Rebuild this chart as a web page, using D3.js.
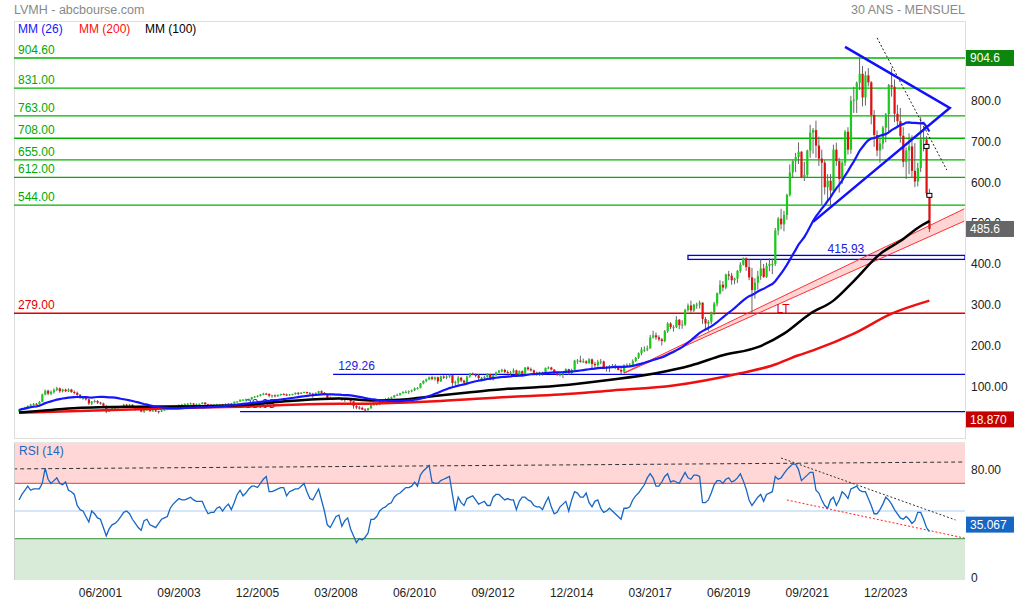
<!DOCTYPE html>
<html>
<head>
<meta charset="utf-8">
<script src="https://cdn.jsdelivr.net/npm/d3@7"></script>
<style>
body { margin: 0; background: #fff; }
svg { font-family: "Liberation Sans", Arial, sans-serif; }
</style>
</head>
<body>
<div id="vis"></div>
<script>
// monthly candles, first month = 1999-03
var startYear = 1999, startMon = 3;
var firstOpen = 39;
var closes = [
  42,46,48,52,55,57,56,62,80,89,
  82,86,91,95,88,92,88,92,86,84,79,72,
  72,68,58,62,64,60,58,52,38,42,48,47,
  49,51,55,53,55,50,43,46,38,42,44,39,
  41,39,38,41,43,44,46,51,52,54,55,57,
  57,58,55,56,57,60,56,55,54,55,56,56,
  55,57,58,57,62,63,67,67,68,68,73,75,
  77,80,82,81,77,78,76,79,81,80,78,80,
  81,84,83,84,86,83,82,78,84,88,84,81,
  72,71,70,72,71,66,69,70,63,52,48,47,
  43,42,46,54,58,55,63,68,69,71,73,78,
  79,83,86,86,88,90,95,96,107,113,117,122,
  118,122,112,124,121,124,127,108,110,121,114,109,
  124,131,128,127,120,121,123,130,117,127,134,138,
  140,135,134,134,139,126,137,131,146,142,139,133,
  128,133,132,145,146,141,132,128,129,133,142,132,
  140,163,163,160,161,157,166,155,152,160,161,145,
  147,149,150,146,140,136,152,152,153,162,170,181,
  190,190,193,220,225,220,215,211,235,254,245,245,
  263,250,251,287,298,286,300,300,305,265,254,258,
  281,303,328,349,342,374,371,360,364,383,398,414,
  392,367,336,354,370,389,368,395,400,400,482,511,
  497,520,569,624,652,662,675,612,618,678,722,728,
  690,658,648,588,604,580,680,652,608,648,724,680,
  800,802,844,866,808,862,845,765,716,678,695,734,
  767,838,834,768,750,714,650,678,688,628,602,635,
  705,705,573,485.6
];
var highs = [
  44,47,50,53,57,59,59,64,82,92,
  92,90,95,99,97,94,94,95,94,90,87,81,
  76,74,70,64,67,66,62,60,54,45,50,50,
  51,52,57,57,57,56,51,48,47,44,47,45,
  43,42,40,43,45,46,48,52,54,56,57,58,
  59,60,59,58,58,61,61,57,56,56,57,57,
  57,58,59,59,63,64,68,69,70,70,74,76,
  78,81,84,84,83,79,80,80,82,83,82,81,
  82,85,86,86,87,87,86,84,85,89,90,86,
  82,75,73,73,74,72,70,72,71,64,56,52,
  50,46,47,55,60,59,64,69,71,73,75,79,
  82,84,88,90,90,92,97,98,108,115,119,124,
  126,124,124,126,127,127,129,128,114,125,123,116,
  126,133,134,132,130,123,126,132,131,129,136,140,
  143,143,139,138,144,141,139,139,147,149,146,141,
  136,136,136,146,149,148,142,134,133,136,144,143,
  143,165,167,175,168,164,169,168,160,165,167,163,
  150,152,155,155,148,148,154,156,157,166,172,183,
  196,198,200,226,236,232,225,218,238,257,257,250,
  272,265,262,290,303,310,302,305,310,306,270,262,
  283,307,330,360,358,376,383,378,366,385,404,416,
  415.9,412,390,365,383,411,400,403,414,413,488,515,
  535,530,572,644,654,672,698,676,650,680,741,733,
  751,712,680,654,620,620,692,697,660,652,728,735,
  812,834,847,904.6,885,872,880,848,777,727,706,738,
  770,841,880,852,790,782,735,686,720,715,696,648,
  760,738,713,584
];
var lows = [
  38,41,44,46,50,53,54,55,61,78,
  78,78,82,88,84,85,86,86,84,80,76,69,
  67,65,54,54,60,57,55,50,34,37,41,45,
  45,47,50,51,51,48,40,41,36,35,40,38,
  38,37,33,37,40,42,43,45,49,50,52,54,
  55,55,53,53,54,56,55,53,52,52,53,54,
  53,54,55,55,56,60,62,64,65,64,67,72,
  73,75,78,79,73,72,73,74,77,78,76,77,
  78,79,78,81,83,82,80,72,77,82,82,78,
  68,68,66,68,69,65,62,66,58,45,44,43,
  42,39,38.08,45,52,53,54,61,65,66,69,72,
  76,77,82,83,81,85,88,92,95,105,110,115,
  115,114,106,111,118,117,121,100,98,105,110,103,
  108,121,127,122,115,112,116,121,115,114,125,132,
  134,132,131,128,132,124,125,130,129,138,136,130,
  126,125,126,130,142,139,130,125,124,120,131,128,
  130,138,155,158,157,154,155,143,142,148,154,144,
  136,135,145,142,139,130,133,149,148,151,160,167,
  176,184,186,192,217,214,210,200,208,231,240,234,
  243,240,241,248,283,280,282,290,291,253,238,235,
  252,275,296,325,333,338,360,349,350,353,378,396,
  383,360,279,315,337,361,366,366,382,375,395,470,
  485,480,508,565,610,625,645,610,603,612,660,670,
  660,640,545,570,553,543,578,640,575,596,640,668,
  670,770,770,826,786,788,835,742,687,664,648,681,
  698,720,810,748,738,697,637,608,620,612,588,590,
  625,676,566,478
];

// RSI (14), one value per month
var rsiValues = [
  58,62,65,68,65,66,66,66,70,81,
  73,70,72,74,70,69,71,65,64,62,
  54,51,50,46,42,50,48,45,44,38,
  32,37,40,41,43,46,49,50,48,44,
  41,38,36,43,44,40,39,38,41,44,
  45,46,52,55,57,59,58,58,59,60,
  58,57,57,57,52,48,49,49,52,53,
  50,53,55,51,56,62,65,61,63,66,
  68,68,67,70,73,75,64,64,65,66,
  67,67,61,64,65,66,66,68,70,64,
  59,58,62,66,58,50,40,38,42,46,
  47,39,43,45,37,32,27,30,29,31,
  34,44,44,46,50,52,53,55,56,60,
  62,63,65,67,67,68,71,68,76,79,
  81,83,71,70,70,72,73,74,75,62,
  50,60,56,54,59,60,61,58,55,56,
  57,54,54,60,62,62,60,58,59,58,
  58,51,57,60,60,58,57,54,53,53,
  51,56,60,53,48,49,53,55,57,50,
  58,64,63,60,60,63,56,53,57,58,
  52,49,50,52,50,48,46,44,52,52,
  53,58,61,63,66,69,74,77,74,68,
  68,71,75,77,71,72,71,70,74,78,
  74,73,76,76,75,56,56,58,63,69,
  72,72,70,73,74,71,72,74,77,72,
  66,58,54,57,60,62,57,62,63,64,
  75,73,74,77,80,82,84,84,80,72,
  74,76,78,78,65,63,58,54,52,58,
  60,54,58,64,62,59,66,67,68,65,
  64,64,59,54,48,48,51,55,60,58,
  55,51,48,45,44,46,44,41,43,49,
  49,44,38,35.067
];

// long moving averages
var ma100Months = ["1999-03","1999-11","2000-11","2002-06","2004-05","2005-07","2006-12","2008-05","2009-05","2010-02","2010-11","2012-03","2013-03","2014-02","2014-09","2016-01","2017-06","2018-06","2019-05","2020-05","2021-02","2021-11","2022-07","2023-02","2023-11","2024-06","2025-01","2025-04"];
var ma100Values = [36,40,47,50,51,54,64,70,65,67,74,86,94,98,102,115,132,151,176,196,229,278,310,358,424,456,493,505];
var ma200Months = ["1999-03","2004-05","2005-07","2007-06","2009-05","2011-04","2013-03","2014-09","2016-03","2017-12","2019-11","2020-10","2021-07","2021-12","2023-02","2024-03","2025-04"];
var ma200Values = [35,48,50,56,58,64,74,80,90,102,132,151,176,188,229,278,310];

var greenLevels = [904.60, 831.00, 763.00, 708.00, 655.00, 612.00, 544.00];
var redLevels = [279.00];
var blueLevels = [129.26, 38.08];
var blueLevelStarts = ["2008-03", "2005-07"];
var boxLevel = 415.93, boxStart = "2018-05", boxLabelMonth = "2022-05";

var priceTicks = [100, 200, 300, 400, 500, 600, 700, 800];
var priceTickLabels = ["100.00", "200.0", "300.0", "400.0", "500.0", "600.0", "700.0", "800.0"];
var dateLabels = ["06/2001","09/2003","12/2005","03/2008","06/2010","09/2012","12/2014","03/2017","06/2019","09/2021","12/2023"];

// drawn trend lines (month, value)
var channelMonths = ["2016-07", "2026-04"];
var channelUpper = [133, 535];
var channelLower = [132, 505];
var triangleMonths = ["2022-11", "2025-11", "2021-12"];
var triangleValues = [932, 782, 503];
var dotMonths = ["2023-10", "2025-10"];
var dotValues = [954, 630];
var markerMonths = ["2025-03", "2025-04"];
var markerValues = [688, 568];
var rsiDashMonths = ["1999-01", "2026-04"];
var rsiDashValues = [80.5, 85.5];
var rsiTopMonths = ["2021-01", "2026-01"];
var rsiTopValues = [88.4, 43.5];
var rsiLowMonths = ["2021-03", "2026-04"];
var rsiLowValues = [58, 30.4];

function idx(s) {
  var p = s.split(/[-\/]/);
  return (+p[0] - startYear) * 12 + (+p[1] - startMon);
}
function labelIdx(s) { // "MM/YYYY"
  var p = s.split("/");
  return (+p[1] - startYear) * 12 + (+p[0] - startMon);
}

var W = 1014, H = 603;
var left = 14, right = 965, mainTop = 21, mainBottom = 438, rsiTop = 442, rsiBottom = 580;

var x = d3.scaleLinear().domain([0, 313]).range([19, 929.4]);
var y = d3.scaleLinear().domain([0, 900]).range([427.1, 59.9]);
var yr = d3.scaleLinear().domain([0, 100]).range([rsiBottom, rsiTop]);

var svg = d3.select("#vis").append("svg")
    .attr("width", W)
    .attr("height", H);

var defs = svg.append("defs");
defs.append("clipPath").attr("id", "clipMain").append("rect")
    .attr("x", left).attr("y", mainTop).attr("width", right - left).attr("height", mainBottom - mainTop);
defs.append("clipPath").attr("id", "clipRsi").append("rect")
    .attr("x", left).attr("y", rsiTop).attr("width", right - left).attr("height", rsiBottom - rsiTop);

// header
svg.append("text").attr("x", 14).attr("y", 14).attr("font-size", 12.5).attr("fill", "#888")
    .text("LVMH - abcbourse.com");
svg.append("text").attr("x", right).attr("y", 14).attr("font-size", 12.5).attr("fill", "#888")
    .attr("text-anchor", "end").text("30 ANS - MENSUEL");

svg.append("rect").attr("x", left + 0.5).attr("y", mainTop + 0.5)
    .attr("width", right - left).attr("height", mainBottom - mainTop)
    .attr("fill", "none").attr("stroke", "#ddd");

var main = svg.append("g").attr("clip-path", "url(#clipMain)");

// horizontal levels
greenLevels.forEach(function(v) {
  main.append("line").attr("x1", left).attr("x2", right)
      .attr("y1", y(v)).attr("y2", y(v)).attr("stroke", "#00b400").attr("stroke-width", 1.3);
  main.append("text").attr("x", 18).attr("y", y(v) - 4).attr("font-size", 12)
      .attr("fill", "#00aa00").text(v.toFixed(2));
});
redLevels.forEach(function(v) {
  main.append("line").attr("x1", left).attr("x2", right)
      .attr("y1", y(v)).attr("y2", y(v)).attr("stroke", "#e00000").attr("stroke-width", 1.3);
  main.append("text").attr("x", 18).attr("y", y(v) - 4).attr("font-size", 12)
      .attr("fill", "#e00000").text(v.toFixed(2));
});
blueLevels.forEach(function(v, k) {
  var x0 = x(idx(blueLevelStarts[k]));
  main.append("line").attr("x1", x0).attr("x2", right)
      .attr("y1", y(v)).attr("y2", y(v)).attr("stroke", "#0000dd").attr("stroke-width", 1.3);
  main.append("text").attr("x", x0 + 5).attr("y", y(v) - 4).attr("font-size", 12)
      .attr("fill", "#2020e0").text(v.toFixed(2));
});
main.append("rect").attr("x", x(idx(boxStart))).attr("y", y(boxLevel) - 2)
    .attr("width", right - x(idx(boxStart))).attr("height", 4)
    .attr("fill", "none").attr("stroke", "#0000dd").attr("stroke-width", 1.3);
main.append("text").attr("x", x(idx(boxLabelMonth))).attr("y", y(boxLevel) - 4).attr("font-size", 12)
    .attr("fill", "#2020e0").text(boxLevel.toFixed(2));

// rising channel
var ci0 = idx(channelMonths[0]), ci1 = idx(channelMonths[1]);
main.append("path")
    .attr("d", "M" + x(ci0) + "," + y(channelUpper[0]) + "L" + x(ci1) + "," + y(channelUpper[1]) +
               "L" + x(ci1) + "," + y(channelLower[1]) + "L" + x(ci0) + "," + y(channelLower[0]) + "Z")
    .attr("fill", "rgba(255,60,60,0.22)").attr("stroke", "none");
[channelUpper, channelLower].forEach(function(arr) {
  main.append("line").attr("x1", x(ci0)).attr("y1", y(arr[0]))
      .attr("x2", x(ci1)).attr("y2", y(arr[1]))
      .attr("stroke", "#ff3030").attr("stroke-width", 1);
});

// candles
var candles = closes.map(function(c, i) {
  return { i: i, o: i ? closes[i - 1] : firstOpen, c: c, h: highs[i], l: lows[i] };
});
var cg = main.append("g");
cg.selectAll("line.wick").data(candles).enter().append("line")
    .attr("class", "wick")
    .attr("x1", function(d) { return x(d.i); })
    .attr("x2", function(d) { return x(d.i); })
    .attr("y1", function(d) { return y(d.h); })
    .attr("y2", function(d) { return y(d.l); })
    .attr("stroke", "#666").attr("stroke-width", 1);
cg.selectAll("rect.body").data(candles).enter().append("rect")
    .attr("class", "body")
    .attr("x", function(d) { return x(d.i) - 1; })
    .attr("width", 2.2)
    .attr("y", function(d) { return y(Math.max(d.o, d.c)); })
    .attr("height", function(d) { return Math.max(1, Math.abs(y(d.o) - y(d.c))); })
    .attr("fill", function(d) { return d.c >= d.o ? "#19cc19" : "#e01010"; });

// moving averages
var ma26 = closes.map(function(c, i) {
  return d3.mean(closes.slice(Math.max(0, i - 25), i + 1));
});
var smooth = d3.line().x(function(d) { return x(d[0]); }).y(function(d) { return y(d[1]); })
    .curve(d3.curveMonotoneX);
main.append("path")
    .datum(ma200Months.map(function(m, k) { return [idx(m), ma200Values[k]]; }))
    .attr("d", smooth).attr("fill", "none").attr("stroke", "#ee1010").attr("stroke-width", 2.5);
main.append("path")
    .datum(ma100Months.map(function(m, k) { return [idx(m), ma100Values[k]]; }))
    .attr("d", smooth).attr("fill", "none").attr("stroke", "#000").attr("stroke-width", 2.5);
main.append("path")
    .datum(ma26.map(function(v, i) { return [i, v]; }))
    .attr("d", d3.line().x(function(d) { return x(d[0]); }).y(function(d) { return y(d[1]); }))
    .attr("fill", "none").attr("stroke", "#1515ff").attr("stroke-width", 2.2);

// triangle & dotted trend
main.append("path")
    .attr("d", d3.line()(triangleMonths.map(function(m, k) { return [x(idx(m)), y(triangleValues[k])]; })))
    .attr("fill", "none").attr("stroke", "#1010ff").attr("stroke-width", 2.5);
main.append("line")
    .attr("x1", x(idx(dotMonths[0]))).attr("y1", y(dotValues[0]))
    .attr("x2", x(idx(dotMonths[1]))).attr("y2", y(dotValues[1]))
    .attr("stroke", "#222").attr("stroke-width", 1).attr("stroke-dasharray", "2,2");

markerMonths.forEach(function(m, k) {
  main.append("rect").attr("x", x(idx(m)) - 2.5).attr("y", y(markerValues[k]) - 2)
      .attr("width", 5).attr("height", 4)
      .attr("fill", "#fff").attr("stroke", "#000").attr("stroke-width", 1);
});
main.append("text").attr("x", x(idx("2020-12")) + 5).attr("y", y(289) + 4)
    .attr("text-anchor", "middle").attr("font-size", 12).attr("fill", "#e00000").text("LT");

// legend
var legend = [["MM (26)", "#1515ff", 18], ["MM (200)", "#ff1010", 79], ["MM (100)", "#000", 145]];
legend.forEach(function(l) {
  svg.append("text").attr("x", l[2]).attr("y", 33).attr("font-size", 12).attr("fill", l[1]).text(l[0]);
});

// right axis labels
priceTicks.forEach(function(v, k) {
  svg.append("text").attr("x", 971).attr("y", y(v)).attr("dy", "0.35em")
      .attr("font-size", 12).attr("fill", "#222").text(priceTickLabels[k]);
});
function tag(v, yy, bg, label) {
  svg.append("rect").attr("x", 966).attr("y", yy - 8).attr("width", 48).attr("height", 16).attr("fill", bg);
  svg.append("text").attr("x", 970).attr("y", yy).attr("dy", "0.35em")
      .attr("font-size", 12).attr("fill", "#fff").text(label);
}
tag(904.6, y(904.6), "#0c860c", "904.6");
tag(485.6, y(485.6), "#666", "485.6");
tag(18.87, y(18.87), "#c40000", "18.870");

// RSI panel
var rsi = svg.append("g").attr("clip-path", "url(#clipRsi)");
rsi.append("rect").attr("x", left).attr("y", yr(100)).attr("width", right - left)
    .attr("height", yr(70) - yr(100)).attr("fill", "#ffd7d7");
rsi.append("rect").attr("x", left).attr("y", yr(30)).attr("width", right - left)
    .attr("height", yr(0) - yr(30)).attr("fill", "#d8ebd8");
rsi.append("line").attr("x1", left).attr("x2", right).attr("y1", yr(70)).attr("y2", yr(70))
    .attr("stroke", "#ff5555").attr("stroke-width", 1.2);
rsi.append("line").attr("x1", left).attr("x2", right).attr("y1", yr(50)).attr("y2", yr(50))
    .attr("stroke", "#a9cdf0").attr("stroke-width", 1.2);
rsi.append("line").attr("x1", left).attr("x2", right).attr("y1", yr(30)).attr("y2", yr(30))
    .attr("stroke", "#5da05d").attr("stroke-width", 1.2);
rsi.append("line")
    .attr("x1", x(idx(rsiDashMonths[0]))).attr("y1", yr(rsiDashValues[0]))
    .attr("x2", x(idx(rsiDashMonths[1]))).attr("y2", yr(rsiDashValues[1]))
    .attr("stroke", "#333").attr("stroke-width", 1).attr("stroke-dasharray", "4,3");
rsi.append("line")
    .attr("x1", x(idx(rsiTopMonths[0]))).attr("y1", yr(rsiTopValues[0]))
    .attr("x2", x(idx(rsiTopMonths[1]))).attr("y2", yr(rsiTopValues[1]))
    .attr("stroke", "#333").attr("stroke-width", 1).attr("stroke-dasharray", "2,2");
rsi.append("line")
    .attr("x1", x(idx(rsiLowMonths[0]))).attr("y1", yr(rsiLowValues[0]))
    .attr("x2", x(idx(rsiLowMonths[1]))).attr("y2", yr(rsiLowValues[1]))
    .attr("stroke", "#ff2020").attr("stroke-width", 1).attr("stroke-dasharray", "2,2");
rsi.append("path").datum(rsiValues)
    .attr("d", d3.line().x(function(d, i) { return x(i); }).y(function(d) { return yr(d); }))
    .attr("fill", "none").attr("stroke", "#1766c4").attr("stroke-width", 1.3);
rsi.append("text").attr("x", 19).attr("y", 455).attr("font-size", 12).attr("fill", "#1766c4").text("RSI (14)");

svg.append("line").attr("x1", left + 0.5).attr("x2", left + 0.5).attr("y1", rsiTop).attr("y2", rsiBottom)
    .attr("stroke", "#ccc");
svg.append("line").attr("x1", left).attr("x2", right).attr("y1", rsiTop + 0.5).attr("y2", rsiTop + 0.5)
    .attr("stroke", "#e6e6e6");

svg.append("text").attr("x", 971).attr("y", yr(80)).attr("dy", "0.35em")
    .attr("font-size", 12).attr("fill", "#222").text("80.00");
svg.append("text").attr("x", 971).attr("y", yr(0) - 2).attr("dy", "0.35em")
    .attr("font-size", 12).attr("fill", "#222").text("0");
var lastRsi = rsiValues[rsiValues.length - 1];
tag(lastRsi, yr(lastRsi) - 7, "#1766c4", lastRsi.toFixed(3));

// date labels
dateLabels.forEach(function(s) {
  svg.append("text").attr("x", x(labelIdx(s) + 1)).attr("y", 597)
      .attr("text-anchor", "middle").attr("font-size", 12).attr("fill", "#222").text(s);
});

console.log(closes.length, highs.length, lows.length, rsiValues.length);
</script>
</body>
</html>
